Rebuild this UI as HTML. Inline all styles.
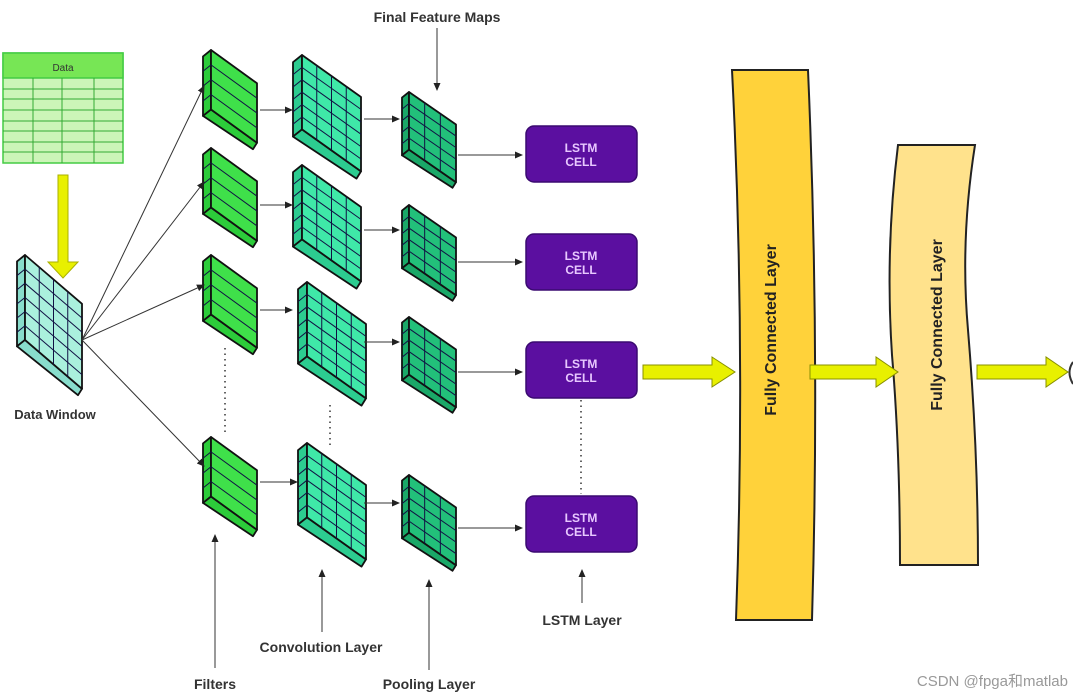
<!DOCTYPE html>
<html><head><meta charset="utf-8"><style>
html,body{margin:0;padding:0;background:#fff;}
svg{display:block;font-family:"Liberation Sans",Arial,sans-serif;}
</style></head><body>
<svg id="s" width="1073" height="697" viewBox="0 0 1073 697" xmlns="http://www.w3.org/2000/svg">
<defs>
<marker id="ah" markerWidth="8" markerHeight="8" refX="7" refY="4" orient="auto" markerUnits="userSpaceOnUse"><path d="M0,0.5 L8,4 L0,7.5 Z" fill="#222"/></marker>
</defs>
<rect x="3" y="53" width="120" height="110" fill="#ccf5b8" stroke="#4c4" stroke-width="1.5"/>
<rect x="3" y="53" width="120" height="25" fill="#77e655" stroke="#4c4" stroke-width="1.5"/>
<text x="63" y="71" font-size="10" text-anchor="middle" fill="#333">Data</text>
<g stroke="#3a3" stroke-width="1">
<line x1="3" y1="89" x2="123" y2="89"/><line x1="3" y1="99" x2="123" y2="99"/><line x1="3" y1="110" x2="123" y2="110"/>
<line x1="3" y1="121" x2="123" y2="121"/><line x1="3" y1="131" x2="123" y2="131"/><line x1="3" y1="142" x2="123" y2="142"/><line x1="3" y1="152" x2="123" y2="152"/>
<line x1="33" y1="78" x2="33" y2="163"/><line x1="62" y1="78" x2="62" y2="163"/><line x1="94" y1="78" x2="94" y2="163"/>
</g>
<path d="M58,175 L68,175 L68,262 L78,262 L63,278 L48,262 L58,262 Z" fill="#e8f000" stroke="#aab000" stroke-width="1"/>
<g id="slabs"></g>
<g stroke="#333" stroke-width="1" fill="none" marker-end="url(#ah)">
<line x1="82" y1="340" x2="204" y2="86"/>
<line x1="82" y1="340" x2="204" y2="182"/>
<line x1="82" y1="340" x2="204" y2="285"/>
<line x1="82" y1="340" x2="204" y2="466"/>
<line x1="260" y1="110" x2="292" y2="110"/>
<line x1="260" y1="205" x2="292" y2="205"/>
<line x1="260" y1="310" x2="292" y2="310"/>
<line x1="260" y1="482" x2="297" y2="482"/>
<line x1="364" y1="119" x2="399" y2="119"/>
<line x1="364" y1="230" x2="399" y2="230"/>
<line x1="364" y1="342" x2="399" y2="342"/>
<line x1="364" y1="503" x2="399" y2="503"/>
<line x1="458" y1="155" x2="522" y2="155"/>
<line x1="458" y1="262" x2="522" y2="262"/>
<line x1="458" y1="372" x2="522" y2="372"/>
<line x1="458" y1="528" x2="522" y2="528"/>
<line x1="437" y1="28" x2="437" y2="90"/>
<line x1="215" y1="668" x2="215" y2="535"/>
<line x1="322" y1="632" x2="322" y2="570"/>
<line x1="429" y1="670" x2="429" y2="580"/>
<line x1="582" y1="603" x2="582" y2="570"/>
</g>
<g stroke="#333" stroke-width="1.5" stroke-dasharray="1.5,4">
<line x1="225" y1="348" x2="225" y2="436"/>
<line x1="330" y1="405" x2="330" y2="445"/>
<line x1="581" y1="400" x2="581" y2="494"/>
</g>
<g fill="#5b0fa0" stroke="#3a0a70" stroke-width="1.5">
<rect x="526" y="126" width="111" height="56" rx="8"/>
<rect x="526" y="234" width="111" height="56" rx="8"/>
<rect x="526" y="342" width="111" height="56" rx="8"/>
<rect x="526" y="496" width="111" height="56" rx="8"/>
</g>
<g fill="#e8c8ff" font-size="12" font-weight="bold" text-anchor="middle">
<text x="581" y="152">LSTM</text><text x="581" y="166">CELL</text>
<text x="581" y="260">LSTM</text><text x="581" y="274">CELL</text>
<text x="581" y="368">LSTM</text><text x="581" y="382">CELL</text>
<text x="581" y="522">LSTM</text><text x="581" y="536">CELL</text>
</g>
<path d="M732,70 L808,70 Q820,345 812,620 L736,620 Q746,345 732,70 Z" fill="#ffd23a" stroke="#222" stroke-width="2"/>
<path d="M898,145 L975,145 Q960,240 968,330 Q978,450 978,565 L900,565 Q900,450 892,355 Q885,250 898,145 Z" fill="#ffe28c" stroke="#222" stroke-width="2"/>
<text transform="translate(776,330) rotate(-90)" font-size="16" font-weight="bold" text-anchor="middle" fill="#222">Fully Connected Layer</text>
<text transform="translate(942,325) rotate(-90)" font-size="16" font-weight="bold" text-anchor="middle" fill="#222">Fully Connected Layer</text>
<g fill="#e8f000" stroke="#889000" stroke-width="1">
<path d="M643,365 L712,365 L712,357 L735,372 L712,387 L712,379 L643,379 Z"/>
<path d="M810,365 L876,365 L876,357 L898,372 L876,387 L876,379 L810,379 Z"/>
<path d="M977,365 L1046,365 L1046,357 L1068,372 L1046,387 L1046,379 L977,379 Z"/>
</g>
<path d="M1073,362 Q1066,372 1073,384" fill="none" stroke="#333" stroke-width="2"/>
<g font-size="14" font-weight="bold" fill="#333">
<text x="437" y="22" text-anchor="middle">Final Feature Maps</text>
<text x="55" y="419" text-anchor="middle" font-size="13">Data Window</text>
<text x="215" y="689" text-anchor="middle">Filters</text>
<text x="321" y="652" text-anchor="middle">Convolution Layer</text>
<text x="429" y="689" text-anchor="middle">Pooling Layer</text>
<text x="582" y="625" text-anchor="middle">LSTM Layer</text>
</g>
<text x="1068" y="686" font-size="15" fill="#999" text-anchor="end" font-family="Liberation Sans, Noto Sans CJK SC, sans-serif">CSDN @fpga和matlab</text>
</svg>
<script>
var g=document.getElementById('slabs'),NS='http://www.w3.org/2000/svg';
function poly(pts,fill,sw){var p=document.createElementNS(NS,'polygon');p.setAttribute('points',pts.map(function(a){return a.join(',')}).join(' '));p.setAttribute('fill',fill);p.setAttribute('stroke','#111');p.setAttribute('stroke-width',sw||1.8);p.setAttribute('stroke-linejoin','round');g.appendChild(p);}
function ln(a,b,c){var l=document.createElementNS(NS,'line');l.setAttribute('x1',a[0]);l.setAttribute('y1',a[1]);l.setAttribute('x2',b[0]);l.setAttribute('y2',b[1]);l.setAttribute('stroke',c||'#114');l.setAttribute('stroke-width',1);g.appendChild(l);}
function slab(x,y,w,h,t,face,side,rows,cols){
 var fh=h*0.62, d=h-fh-t*0.4;
 var A=[x+t,y],B=[x+w,y+d],C=[x+w,y+d+fh],D=[x+t,y+fh];
 var k=t*0.8;
 poly([[x,y+k],A,D,[x,y+fh+k]],side);
 poly([[x,y+fh+k],D,C,[x+w-t*0.5,y+d+fh+k]],side);
 poly([A,B,C,D],face);
 for(var i=1;i<rows;i++){var f=i/rows;ln([A[0],A[1]+fh*f],[B[0],B[1]+fh*f]);}
 for(var j=1;j<cols;j++){var f=j/cols;ln([A[0]+(B[0]-A[0])*f,A[1]+(B[1]-A[1])*f],[D[0]+(C[0]-D[0])*f,D[1]+(C[1]-D[1])*f]);}
 for(var i=1;i<rows;i++){var f=i/rows;ln([x,y+k+fh*f],[x+t,y+fh*f]);}
}
slab(17,255,65,137,8,'#aaf0dd','#88ddcc',6,4);
[[203,50],[203,148],[203,255],[203,437]].forEach(function(p){slab(p[0],p[1],54,96,8,'#3fe04a','#2ccc3a',4,1);});
[[293,55],[293,165],[298,282],[298,443]].forEach(function(p){slab(p[0],p[1],68,120,9,'#3fe8a8','#2ccc90',6,4);});
[[402,92],[402,205],[402,317],[402,475]].forEach(function(p){slab(p[0],p[1],54,93,7,'#22c07a','#1aa868',5,3);});
</script>
</body></html>
